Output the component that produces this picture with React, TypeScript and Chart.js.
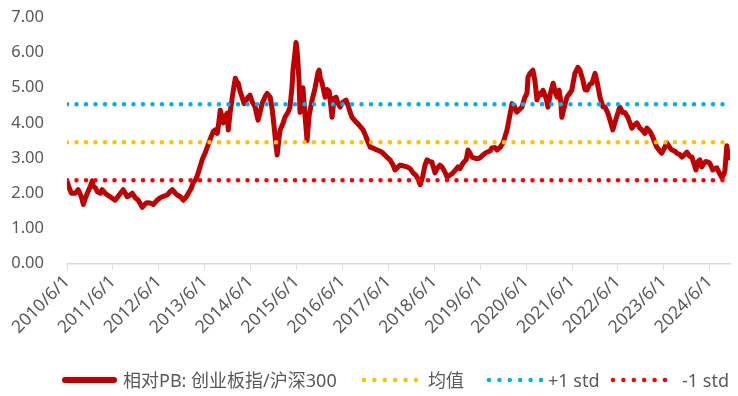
import React, { useEffect, useRef } from 'react';
import { Chart, registerables } from 'chart.js';

Chart.register(...registerables);

// ---- data ----
const dates: string[] = [
  '2010/6/1','2010/6/19','2010/7/5','2010/8/6','2010/8/29','2010/9/23','2010/10/9','2010/10/24','2010/11/10','2010/12/4',
  '2010/12/19','2010/12/27','2011/1/13','2011/1/28','2011/2/22','2011/3/8','2011/4/1','2011/4/17','2011/5/18','2011/6/19',
  '2011/7/21','2011/8/22','2011/9/8','2011/9/23','2011/10/17','2011/11/3','2011/11/26','2011/12/20','2012/1/21','2012/2/14',
  '2012/2/28','2012/3/24','2012/4/17','2012/5/18','2012/6/12','2012/7/13','2012/8/7','2012/8/30','2012/9/16','2012/10/10',
  '2012/10/25','2012/11/18','2012/12/12','2013/1/6','2013/1/21','2013/2/15','2013/2/28','2013/3/24','2013/4/10','2013/4/25',
  '2013/5/11','2013/6/5','2013/6/20','2013/7/6','2013/7/21','2013/8/7','2013/8/23','2013/9/9','2013/9/24','2013/10/2',
  '2013/10/18','2013/10/26','2013/11/11','2013/11/27','2013/12/5','2013/12/20','2014/1/6','2014/1/22','2014/1/30','2014/2/7',
  '2014/2/23','2014/3/9','2014/3/25','2014/4/10','2014/4/18','2014/5/4','2014/5/27','2014/6/13','2014/7/7','2014/7/22',
  '2014/7/30','2014/8/15','2014/9/1','2014/9/25','2014/10/10','2014/11/4','2014/11/19','2014/11/27','2014/12/13','2014/12/29',
  '2015/1/14','2015/1/22','2015/2/15','2015/3/1','2015/3/25','2015/4/10','2015/4/26','2015/5/4','2015/5/20','2015/5/28',
  '2015/6/5','2015/6/13','2015/6/21','2015/6/29','2015/7/15','2015/7/22','2015/8/8','2015/8/24','2015/9/9','2015/9/25',
  '2015/10/3','2015/10/27','2015/11/20','2015/11/28','2015/12/6','2015/12/22','2016/1/15','2016/1/30','2016/2/16','2016/3/10',
  '2016/3/26','2016/4/11','2016/4/27','2016/5/13','2016/6/6','2016/6/29','2016/7/15','2016/8/1','2016/8/16','2016/9/10',
  '2016/9/25','2016/10/19','2016/11/12','2016/12/6','2016/12/22','2017/1/7','2017/2/1','2017/3/2','2017/3/26','2017/4/19',
  '2017/5/13','2017/6/14','2017/7/8','2017/7/24','2017/8/9','2017/9/2','2017/9/26','2017/10/28','2017/11/21','2017/12/15',
  '2018/1/8','2018/1/24','2018/2/9','2018/3/3','2018/3/19','2018/4/4','2018/4/28','2018/5/13','2018/6/7','2018/6/23',
  '2018/7/16','2018/8/1','2018/8/25','2018/9/11','2018/10/5','2018/10/20','2018/11/14','2018/12/7','2018/12/23','2019/1/16',
  '2019/2/10','2019/2/25','2019/3/11','2019/3/27','2019/4/20','2019/5/6','2019/5/29','2019/6/23','2019/7/16','2019/8/18',
  '2019/9/3','2019/9/27','2019/10/13','2019/11/6','2019/11/30','2019/12/15','2020/1/1','2020/1/17','2020/2/2','2020/2/10',
  '2020/2/26','2020/3/11','2020/3/19','2020/4/13','2020/4/29','2020/5/22','2020/6/8','2020/6/16','2020/7/1','2020/7/25',
  '2020/8/10','2020/8/26','2020/9/12','2020/9/27','2020/10/13','2020/11/7','2020/11/22','2020/12/8','2021/1/2','2021/1/17',
  '2021/2/3','2021/2/18','2021/3/4','2021/3/12','2021/3/28','2021/4/21','2021/5/15','2021/5/30','2021/6/24','2021/7/18',
  '2021/8/3','2021/8/27','2021/9/12','2021/9/28','2021/10/21','2021/11/7','2021/12/1','2021/12/16','2022/1/10','2022/2/3',
  '2022/2/19','2022/3/13','2022/4/6','2022/4/22','2022/5/7','2022/6/1','2022/6/16','2022/7/10','2022/7/26','2022/8/19',
  '2022/9/5','2022/9/20','2022/10/14','2022/10/30','2022/11/23','2022/12/9','2023/1/3','2023/1/18','2023/2/12','2023/3/5',
  '2023/3/21','2023/4/7','2023/4/30','2023/5/16','2023/6/9','2023/6/25','2023/7/19','2023/8/4','2023/8/28','2023/9/13',
  '2023/10/7','2023/10/23','2023/11/16','2023/12/2','2023/12/25','2024/1/11','2024/1/26','2024/2/12','2024/2/28','2024/3/14',
  '2024/3/29','2024/4/15','2024/4/30','2024/5/16','2024/6/2','2024/6/25','2024/7/11','2024/7/27','2024/8/12','2024/8/28',
  '2024/9/6','2024/9/22','2024/9/30','2024/10/7','2024/10/15','2024/10/23','2024/11/1','2024/11/9',
];

const pbRatio: number[] = [
  2.35,2.15,2.0,2.0,2.1,1.9,1.68,1.85,2.0,2.2,
  2.35,2.2,2.15,2.05,2.0,2.1,2.0,1.95,1.88,1.8,
  1.95,2.1,2.0,1.9,1.95,2.0,1.87,1.8,1.6,1.7,
  1.73,1.72,1.68,1.8,1.87,1.92,1.95,2.05,2.1,2.0,
  1.95,1.9,1.8,1.9,2.0,2.15,2.3,2.4,2.58,2.75,
  2.95,3.15,3.3,3.45,3.6,3.75,3.8,3.7,4.1,4.36,
  4.15,4.0,4.2,4.28,3.8,4.3,4.73,5.1,5.27,5.2,
  5.13,4.9,4.73,4.55,4.56,4.7,4.79,4.6,4.45,4.2,
  4.08,4.3,4.56,4.75,4.84,4.73,4.4,4.16,3.6,3.09,
  3.6,3.8,4.0,4.16,4.3,4.45,5.0,5.5,6.0,6.29,
  6.1,5.69,5.2,4.3,4.9,5.0,4.2,3.5,4.2,4.5,
  4.65,5.0,5.45,5.5,5.3,5.13,4.73,4.95,4.9,4.16,
  4.7,4.73,4.55,4.45,4.6,4.65,4.5,4.3,4.16,4.05,
  4.0,3.9,3.8,3.6,3.45,3.31,3.28,3.23,3.2,3.14,
  3.05,2.95,2.8,2.66,2.72,2.8,2.78,2.75,2.7,2.58,
  2.5,2.4,2.24,2.5,2.8,2.95,2.9,2.89,2.58,2.7,
  2.8,2.75,2.6,2.46,2.52,2.55,2.65,2.75,2.7,2.86,
  2.95,3.23,3.15,3.03,3.0,2.98,3.0,3.09,3.15,3.2,
  3.29,3.3,3.23,3.3,3.43,3.6,3.8,4.1,4.4,4.55,
  4.5,4.35,4.31,4.4,4.45,4.73,4.85,5.3,5.41,5.5,
  5.2,4.65,4.84,4.8,4.93,4.7,4.45,4.8,5.13,4.9,
  4.73,4.93,4.6,4.16,4.4,4.73,4.85,4.93,5.41,5.58,
  5.5,5.21,4.95,4.93,5.1,5.13,5.41,5.2,4.73,4.45,
  4.45,4.28,4.0,3.8,4.0,4.28,4.45,4.3,4.3,4.16,
  4.0,3.85,3.95,4.0,3.85,3.8,3.7,3.85,3.75,3.6,
  3.45,3.31,3.2,3.14,3.3,3.43,3.3,3.23,3.2,3.14,
  3.1,3.03,3.1,3.17,3.05,3.03,2.85,2.66,2.9,2.95,
  2.75,2.85,2.9,2.89,2.85,2.66,2.7,2.72,2.6,2.5,
  2.44,2.55,2.66,3.0,3.35,3.1,3.03,3.0,
];

const meanValue = 3.45;
const plusOneStd = 4.53;
const minusOneStd = 2.37;

const xTickDates: string[] = [
  '2010/6/1','2011/6/1','2012/6/1','2013/6/1','2014/6/1','2015/6/1','2016/6/1','2017/6/1',
  '2018/6/1','2019/6/1','2020/6/1','2021/6/1','2022/6/1','2023/6/1','2024/6/1',
];
const yTickValues: number[] = [0, 1, 2, 3, 4, 5, 6, 7];

const seriesLabels: string[] = ['相对PB: 创业板指/沪深300', '均值', '+1 std', '-1 std'];
const seriesColors: string[] = ['#C00000', '#FFC000', '#00B0F0', '#FF0000'];

// ---- helpers ----
const toTs = (s: string): number => {
  const [y, m, d] = s.split('/').map(Number);
  return Date.UTC(y, m - 1, d);
};

const FONT_FAMILY = '"Noto Sans", "Noto Sans CJK SC", sans-serif';
const TEXT_COLOR = '#595959';

function DottedSample({ color }: { color: string }) {
  return (
    <svg width={58} height={10} style={{ display: 'block' }}>
      <line x1={3} y1={5} x2={55} y2={5} stroke={color} strokeWidth={4.5}
        strokeDasharray="0 10.4" strokeLinecap="round" />
    </svg>
  );
}

export default function App() {
  const canvasRef = useRef<HTMLCanvasElement | null>(null);

  useEffect(() => {
    if (!canvasRef.current) return;
    const startTs = toTs(dates[0]);
    const endTs = toTs(dates[dates.length - 1]);
    const mainData = dates.map((d, i) => ({ x: toTs(d), y: pbRatio[i] }));
    const flat = (v: number) => [{ x: startTs, y: v }, { x: endTs, y: v }];

    const dotted = (label: string, color: string, v: number) => ({
      label,
      data: flat(v),
      borderColor: color,
      backgroundColor: color,
      borderWidth: 4.5,
      borderDash: [0, 9.5],
      borderCapStyle: 'round' as const,
      pointRadius: 0,
      fill: false,
      order: 1,
    });

    const chart = new Chart(canvasRef.current, {
      type: 'line',
      data: {
        datasets: [
          {
            label: seriesLabels[0],
            data: mainData,
            borderColor: seriesColors[0],
            backgroundColor: seriesColors[0],
            borderWidth: 5,
            pointRadius: 0,
            tension: 0,
            borderJoinStyle: 'round',
            borderCapStyle: 'round',
            fill: false,
            order: 2,
          },
          dotted(seriesLabels[1], seriesColors[1], meanValue),
          dotted(seriesLabels[2], seriesColors[2], plusOneStd),
          dotted(seriesLabels[3], seriesColors[3], minusOneStd),
        ],
      },
      options: {
        animation: false,
        responsive: false,
        maintainAspectRatio: false,
        layout: { padding: { top: 17.5, right: 8, left: 0, bottom: 0 } },
        plugins: { legend: { display: false }, tooltip: { enabled: false } },
        scales: {
          x: {
            type: 'linear',
            min: startTs,
            max: endTs,
            afterBuildTicks: (s: any) => {
              s.ticks = xTickDates.map((d) => ({ value: toTs(d) }));
            },
            afterFit: (s: any) => {
              s.height = 396 - 263.5;
            },
            ticks: {
              autoSkip: false,
              minRotation: 45,
              maxRotation: 45,
              padding: 2,
              color: TEXT_COLOR,
              font: { family: FONT_FAMILY, size: 17.5 },
              callback: (_v: any, i: number) => xTickDates[i],
            },
            grid: {
              display: true,
              drawOnChartArea: false,
              drawTicks: true,
              tickLength: 6,
              color: '#D9D9D9',
              lineWidth: 1,
            },
            border: { display: true, color: '#D9D9D9', width: 1.5 },
          },
          y: {
            min: 0,
            max: 7,
            afterBuildTicks: (s: any) => {
              s.ticks = yTickValues.map((v) => ({ value: v }));
            },
            afterFit: (s: any) => {
              s.width = 67;
            },
            ticks: {
              padding: 2,
              color: TEXT_COLOR,
              font: { family: FONT_FAMILY, size: 16.5 },
              callback: (v: any) => Number(v).toFixed(2),
            },
            grid: { display: false, drawTicks: true, tickLength: 21 },
            border: { display: false },
          },
        },
      },
    });
    return () => chart.destroy();
  }, []);

  const textStyle: React.CSSProperties = {
    position: 'absolute',
    top: 369,
    height: 22,
    lineHeight: '22px',
    fontSize: 18,
    fontFamily: FONT_FAMILY,
    color: TEXT_COLOR,
    whiteSpace: 'nowrap',
  };

  return (
    <div style={{ position: 'fixed', left: 0, top: 0, width: 738, height: 396, background: '#fff', overflow: 'hidden' }}>
      <canvas ref={canvasRef} width={738} height={396} style={{ display: 'block', width: 738, height: 396 }} />
      <div style={{ position: 'absolute', left: 62, top: 377, width: 55, height: 6, background: seriesColors[0], borderRadius: 3 }} />
      <div style={{ ...textStyle, left: 123 }}>{seriesLabels[0]}</div>
      <div style={{ position: 'absolute', left: 361, top: 375 }}><DottedSample color={seriesColors[1]} /></div>
      <div style={{ ...textStyle, left: 428 }}>{seriesLabels[1]}</div>
      <div style={{ position: 'absolute', left: 486, top: 375 }}><DottedSample color={seriesColors[2]} /></div>
      <div style={{ ...textStyle, left: 548 }}>{seriesLabels[2]}</div>
      <div style={{ position: 'absolute', left: 610, top: 375 }}><DottedSample color={seriesColors[3]} /></div>
      <div style={{ ...textStyle, left: 682 }}>{seriesLabels[3]}</div>
    </div>
  );
}
